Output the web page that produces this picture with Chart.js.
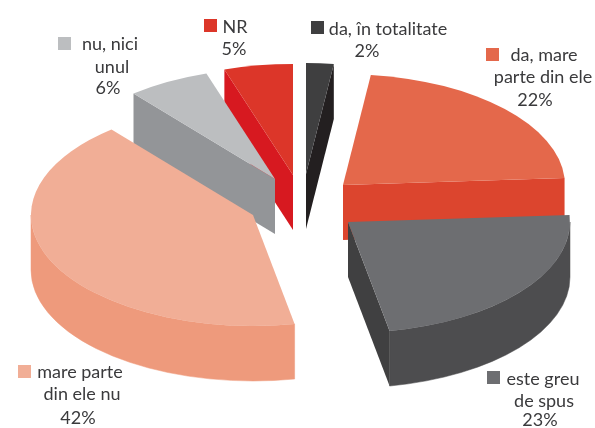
<!DOCTYPE html>
<html>
<head>
<meta charset="utf-8">
<style>
    html, body { margin: 0; padding: 0; background: #fff; }
    #wrap { width: 595px; height: 428px; }
</style>
<script src="https://cdn.jsdelivr.net/npm/chart.js@4"></script>
</head>
<body>
<div id="wrap"><canvas id="chart" width="595" height="428"></canvas></div>
<script>
const CATEGORIES = ['da, în totalitate', 'da, mare parte din ele', 'este greu de spus', 'mare parte din ele nu', 'nu, nici unul', 'NR'];
const VALUES = [2, 22, 23, 42, 6, 5];

const TOP_COLORS = ['#3f3f40', '#e4684b', '#6d6e71', '#f1ae96', '#bcbec0', '#dc3629'];
const WALL_COLORS = ['#231f20', '#dc452e', '#4d4d4f', '#ee9a7c', '#939598', '#d71920'];
const CUT_COLORS = ['#231f20', '#dc452e', '#404041', '#ee9a7c', '#939598', '#d71920'];
const EXPLODE = [60, 56, 58, 54, 56, 59];
const DRAW_ORDER = [5, 0, 1, 4, 2, 3];

const SQUASH = 0.5;
const DEPTH = 55;
const RADIUS = 222;

// Label layout: swatch corner, then [centre x, baseline] for each text line, last line is the percent
const LABEL_LINES = [
    ['da, în totalitate'],
    ['da, mare', 'parte din ele'],
    ['este greu', 'de spus'],
    ['mare parte', 'din ele nu'],
    ['nu, nici', 'unul'],
    ['NR']
];
const SWATCHES = [[311, 21], [486, 48], [487, 371], [18, 365], [58, 37], [204, 19]];
const LINE_POS = [
    [[388, 35], [367, 57]],
    [[544, 61], [543, 83], [535, 106]],
    [[543, 385], [544, 407], [540, 426]],
    [[80, 378], [82, 400], [78, 424]],
    [[110, 50], [112, 73], [108, 94]],
    [[235, 33], [234, 55]]
];

// Pixel snapped apex of an exploded slice, flattened to the pie's tilt
function sliceGeom(arc) {
    const p = arc.getProps(['x', 'y', 'startAngle', 'endAngle', 'outerRadius'], true);
    const mid = (p.startAngle + p.endAngle) / 2;
    return {
        start: p.startAngle,
        end: p.endAngle,
        r: p.outerRadius,
        cx: Math.round(p.x + Math.cos(mid) * arc.options.offset),
        cy: Math.round(p.y + Math.sin(mid) * arc.options.offset * SQUASH)
    };
}

function drawTop(ctx, g, color) {
    ctx.beginPath();
    ctx.moveTo(g.cx, g.cy);
    ctx.ellipse(g.cx, g.cy, g.r, g.r * SQUASH, 0, g.start, g.end);
    ctx.closePath();
    ctx.fillStyle = color;
    ctx.fill();
}

// Curved outer band of the slice, only the front half of the pie shows one
function drawWall(ctx, g, color) {
    const from = Math.max(g.start, 0);
    const to = Math.min(g.end, Math.PI);
    if (from >= to) return;
    ctx.beginPath();
    ctx.ellipse(g.cx, g.cy, g.r, g.r * SQUASH, 0, from, to);
    ctx.ellipse(g.cx, g.cy + DEPTH, g.r, g.r * SQUASH, 0, to, from, true);
    ctx.closePath();
    ctx.fillStyle = color;
    ctx.strokeStyle = color;
    ctx.lineWidth = 0.5;
    ctx.fill();
    ctx.stroke();
}

// The flat edge of a slice that faces the viewer, if there is one
function drawCut(ctx, g, color) {
    [g.start, g.end].forEach((a, i) => {
        const pointsLeft = Math.cos(a) < 0;
        if (pointsLeft !== (i === 0)) return;
        const ex = g.cx + Math.cos(a) * g.r;
        const ey = g.cy + Math.sin(a) * g.r * SQUASH;
        ctx.beginPath();
        ctx.moveTo(g.cx, g.cy);
        ctx.lineTo(ex, ey);
        ctx.lineTo(ex, ey + DEPTH);
        ctx.lineTo(g.cx, g.cy + DEPTH);
        ctx.closePath();
        ctx.fillStyle = color;
        ctx.fill();
    });
}

const pie3d = {
    id: 'pie3d',
    beforeDatasetsDraw(chart) {
        const ctx = chart.ctx;
        const arcs = chart.getDatasetMeta(0).data;
        DRAW_ORDER.forEach(i => {
            const g = sliceGeom(arcs[i]);
            drawWall(ctx, g, WALL_COLORS[i]);
            drawCut(ctx, g, CUT_COLORS[i]);
            drawTop(ctx, g, TOP_COLORS[i]);
        });
        return false;
    },
    afterDraw(chart) {
        const ctx = chart.ctx;
        ctx.save();
        ctx.font = '18px Lato';
        ctx.textAlign = 'center';
        ctx.textBaseline = 'alphabetic';
        CATEGORIES.forEach((name, i) => {
            ctx.fillStyle = TOP_COLORS[i];
            ctx.fillRect(SWATCHES[i][0], SWATCHES[i][1], 13, 13);
            ctx.fillStyle = '#3a3a3c';
            const lines = [...LABEL_LINES[i], VALUES[i] + '%'];
            lines.forEach((line, j) => {
                ctx.fillText(line, LINE_POS[i][j][0], LINE_POS[i][j][1]);
            });
        });
        ctx.restore();
    }
};

new Chart(document.getElementById('chart'), {
    type: 'pie',
    data: {
        labels: CATEGORIES,
        datasets: [{
            data: VALUES,
            backgroundColor: TOP_COLORS,
            offset: EXPLODE,
            borderWidth: 0
        }]
    },
    options: {
        responsive: false,
        animation: false,
        events: [],
        radius: RADIUS,
        layout: { padding: { left: 9, bottom: 20 } },
        plugins: { legend: { display: false }, tooltip: { enabled: false } }
    },
    plugins: [pie3d]
});
</script>
</body>
</html>
